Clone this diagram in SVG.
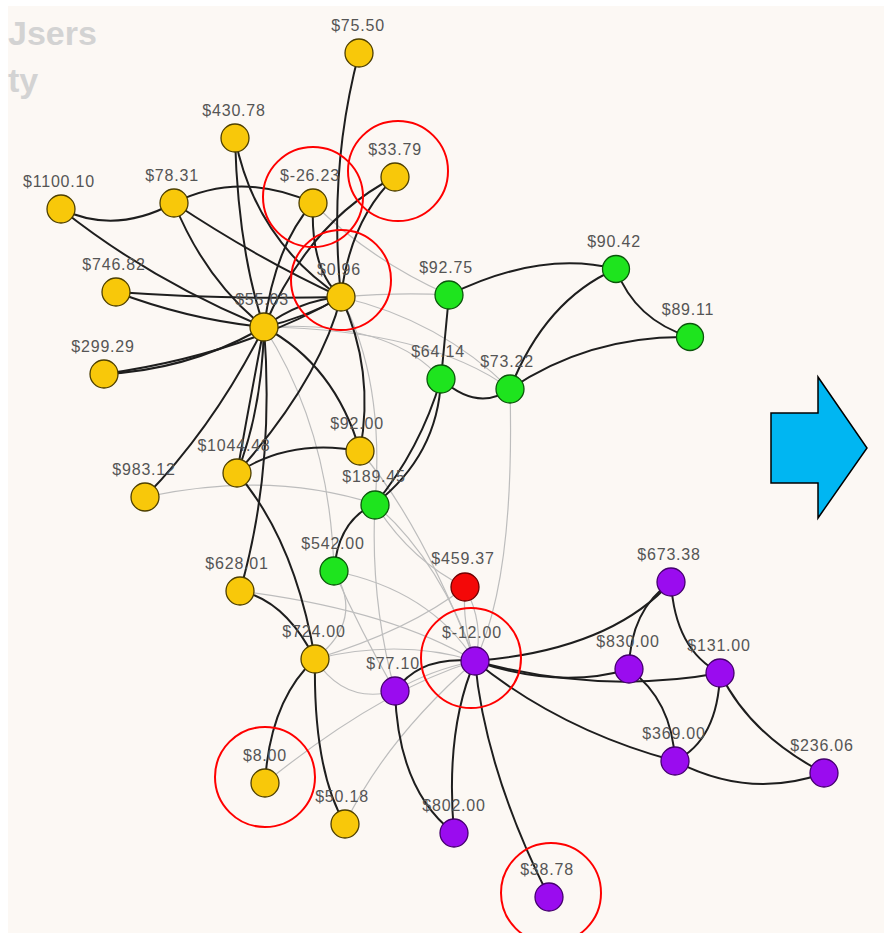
<svg xmlns="http://www.w3.org/2000/svg" width="884" height="933" viewBox="0 0 884 933">
<style>
.bg{fill:#fcf8f4}
.d{fill:none;stroke:#1e1e1e;stroke-width:2}
.g{fill:none;stroke:#bdbdbd;stroke-width:1.2}
.y{fill:#f8c80a;stroke:#4d3f00;stroke-width:1.3}
.gr{fill:#1ee41e;stroke:#0b560b;stroke-width:1.3}
.r{fill:#f40808;stroke:#6e0000;stroke-width:1.3}
.p{fill:#9a0cef;stroke:#45006e;stroke-width:1.3}
.lb{font-family:"Liberation Sans",Arial,sans-serif;font-size:16px;letter-spacing:0.8px;fill:#555;text-anchor:middle}
.hl{fill:none;stroke:#f00;stroke-width:2}
.title{font-family:"Liberation Sans",Arial,sans-serif;font-weight:bold;font-size:34px;fill:#d3d3d3}
</style>
<rect x="0" y="0" width="884" height="933" fill="#ffffff"/>
<rect class="bg" x="8" y="6" width="876" height="927"/>
<text class="title" x="8" y="45">Jsers</text>
<text class="title" x="8" y="92">ty</text>

<g id="connectors">
<!-- gray edges -->
<path class="g" d="M341,297 Q400,292 449,295"/>
<path class="g" d="M313,203 Q370,260 449,295"/>
<path class="g" d="M341,297 Q440,320 510,389"/>
<path class="g" d="M264,327 Q390,320 441,379"/>
<path class="g" d="M264,327 Q430,330 510,389"/>
<path class="g" d="M510,389 Q515,580 475,661"/>
<path class="g" d="M145,497 Q270,470 375,504"/>
<path class="g" d="M264,327 Q330,430 334,571"/>
<path class="g" d="M334,571 Q365,620 315,659"/>
<path class="g" d="M341,297 Q385,380 375,504"/>
<path class="g" d="M360,451 Q420,520 475,661"/>
<path class="g" d="M375,504 Q440,560 475,661"/>
<path class="g" d="M375,504 Q410,560 465,587"/>
<path class="g" d="M375,504 Q370,600 395,691"/>
<path class="g" d="M334,571 Q430,590 475,661"/>
<path class="g" d="M334,571 Q360,630 395,691"/>
<path class="g" d="M240,591 Q390,610 475,661"/>
<path class="g" d="M315,659 Q400,638 475,661"/>
<path class="g" d="M315,659 Q410,630 465,587"/>
<path class="g" d="M315,659 Q345,705 395,691"/>
<path class="g" d="M465,587 Q462,625 475,661"/>
<path class="g" d="M465,587 Q485,625 475,661"/>
<path class="g" d="M265,783 Q380,690 475,661"/>
<path class="g" d="M345,824 Q385,740 475,661"/>
<path class="g" d="M395,691 Q430,670 475,661"/>
<!-- dark edges -->
<path class="d" d="M61,209 Q115,235 174,203"/>
<path class="d" d="M61,209 Q150,280 264,327"/>
<path class="d" d="M174,203 Q240,170 313,203"/>
<path class="d" d="M174,203 Q205,280 264,327"/>
<path class="d" d="M174,203 Q260,260 341,297"/>
<path class="d" d="M235,138 Q238,250 264,327"/>
<path class="d" d="M235,138 Q255,240 341,297"/>
<path class="d" d="M313,203 Q275,245 264,327"/>
<path class="d" d="M313,203 Q310,270 341,297"/>
<path class="d" d="M395,177 Q310,220 264,327"/>
<path class="d" d="M395,177 Q350,220 341,297"/>
<path class="d" d="M359,53 Q328,170 341,297"/>
<path class="d" d="M264,327 Q300,300 341,297"/>
<path class="d" d="M264,327 Q305,318 341,297"/>
<path class="d" d="M116,292 Q190,320 264,327"/>
<path class="d" d="M116,292 Q230,300 341,297"/>
<path class="d" d="M104,374 Q190,370 264,327"/>
<path class="d" d="M104,374 Q240,355 341,297"/>
<path class="d" d="M264,327 Q250,400 237,473"/>
<path class="d" d="M264,327 Q262,410 237,473"/>
<path class="d" d="M264,327 Q275,470 240,591"/>
<path class="d" d="M237,473 Q295,540 315,659"/>
<path class="d" d="M240,591 Q285,600 315,659"/>
<path class="d" d="M315,659 Q270,700 265,783"/>
<path class="d" d="M315,659 Q313,770 345,824"/>
<path class="d" d="M264,327 Q335,365 360,451"/>
<path class="d" d="M341,297 Q375,370 360,451"/>
<path class="d" d="M341,297 Q320,380 237,473"/>
<path class="d" d="M237,473 Q290,438 360,451"/>
<path class="d" d="M264,327 Q215,425 145,497"/>
<path class="d" d="M449,295 Q540,250 616,269"/>
<path class="d" d="M449,295 L441,379"/>
<path class="d" d="M441,379 Q478,412 510,389"/>
<path class="d" d="M510,389 Q545,300 616,269"/>
<path class="d" d="M510,389 Q590,335 690,337"/>
<path class="d" d="M616,269 Q635,320 690,337"/>
<path class="d" d="M441,379 Q420,450 375,504"/>
<path class="d" d="M441,379 Q438,455 375,504"/>
<path class="d" d="M375,504 Q338,520 334,571"/>
<path class="d" d="M475,661 Q420,655 395,691"/>
<path class="d" d="M475,661 Q610,650 671,582"/>
<path class="d" d="M475,661 Q560,690 629,669"/>
<path class="d" d="M475,661 Q600,695 720,673"/>
<path class="d" d="M475,661 Q560,730 675,761"/>
<path class="d" d="M475,661 Q445,730 454,833"/>
<path class="d" d="M475,661 Q485,770 549,897"/>
<path class="d" d="M395,691 Q398,790 454,833"/>
<path class="d" d="M671,582 Q630,610 629,669"/>
<path class="d" d="M671,582 Q675,650 720,673"/>
<path class="d" d="M629,669 Q672,700 675,761"/>
<path class="d" d="M720,673 Q718,740 675,761"/>
<path class="d" d="M720,673 Q750,735 824,773"/>
<path class="d" d="M675,761 Q750,800 824,773"/>
</g>

<g id="n-75-50"><circle class="y" cx="359" cy="53" r="14"/><text class="lb" x="358" y="31">$75.50</text></g>
<g id="n-430-78"><circle class="y" cx="235" cy="138" r="14"/><text class="lb" x="234" y="116">$430.78</text></g>
<g id="n-1100-10"><circle class="y" cx="61" cy="209" r="14"/><text class="lb" x="59" y="187">$1100.10</text></g>
<g id="n-78-31"><circle class="y" cx="174" cy="203" r="14"/><text class="lb" x="172" y="181">$78.31</text></g>
<g id="n-m26-23"><circle class="y" cx="313" cy="203" r="14"/><text class="lb" x="310" y="181">$-26.23</text></g>
<g id="n-33-79"><circle class="y" cx="395" cy="177" r="14"/><text class="lb" x="395" y="155">$33.79</text></g>
<g id="n-0-96"><circle class="y" cx="341" cy="297" r="14"/><text class="lb" x="339" y="275">$0.96</text></g>
<g id="n-746-82"><circle class="y" cx="116" cy="292" r="14"/><text class="lb" x="114" y="270">$746.82</text></g>
<g id="n-55-03"><circle class="y" cx="264" cy="327" r="14"/><text class="lb" x="262" y="305">$55.03</text></g>
<g id="n-299-29"><circle class="y" cx="104" cy="374" r="14"/><text class="lb" x="103" y="352">$299.29</text></g>
<g id="n-92-00"><circle class="y" cx="360" cy="451" r="14"/><text class="lb" x="357" y="429">$92.00</text></g>
<g id="n-1044-48"><circle class="y" cx="237" cy="473" r="14"/><text class="lb" x="234" y="451">$1044.48</text></g>
<g id="n-983-12"><circle class="y" cx="145" cy="497" r="14"/><text class="lb" x="144" y="475">$983.12</text></g>
<g id="n-628-01"><circle class="y" cx="240" cy="591" r="14"/><text class="lb" x="237" y="569">$628.01</text></g>
<g id="n-724-00"><circle class="y" cx="315" cy="659" r="14"/><text class="lb" x="314" y="637">$724.00</text></g>
<g id="n-8-00"><circle class="y" cx="265" cy="783" r="14"/><text class="lb" x="265" y="761">$8.00</text></g>
<g id="n-50-18"><circle class="y" cx="345" cy="824" r="14"/><text class="lb" x="342" y="802">$50.18</text></g>

<g id="n-92-75"><circle class="gr" cx="449" cy="295" r="14"/><text class="lb" x="446" y="273">$92.75</text></g>
<g id="n-90-42"><circle class="gr" cx="616" cy="269" r="13.5"/><text class="lb" x="614" y="247">$90.42</text></g>
<g id="n-89-11"><circle class="gr" cx="690" cy="337" r="13.5"/><text class="lb" x="688" y="315">$89.11</text></g>
<g id="n-64-14"><circle class="gr" cx="441" cy="379" r="14"/><text class="lb" x="438" y="357">$64.14</text></g>
<g id="n-73-22"><circle class="gr" cx="510" cy="389" r="14"/><text class="lb" x="507" y="367">$73.22</text></g>
<g id="n-189-45"><circle class="gr" cx="375" cy="505" r="14"/><text class="lb" x="374" y="482">$189.45</text></g>
<g id="n-542-00"><circle class="gr" cx="334" cy="571" r="14"/><text class="lb" x="333" y="549">$542.00</text></g>

<g id="n-459-37"><circle class="r" cx="465" cy="587" r="14"/><text class="lb" x="463" y="564">$459.37</text></g>

<g id="n-673-38"><circle class="p" cx="671" cy="582" r="14"/><text class="lb" x="669" y="560">$673.38</text></g>
<g id="n-830-00"><circle class="p" cx="629" cy="669" r="14"/><text class="lb" x="628" y="647">$830.00</text></g>
<g id="n-131-00"><circle class="p" cx="720" cy="673" r="14"/><text class="lb" x="719" y="651">$131.00</text></g>
<g id="n-m12-00"><circle class="p" cx="475" cy="661" r="14"/><text class="lb" x="472" y="638">$-12.00</text></g>
<g id="n-77-10"><circle class="p" cx="395" cy="691" r="14"/><text class="lb" x="393" y="669">$77.10</text></g>
<g id="n-369-00"><circle class="p" cx="675" cy="761" r="14"/><text class="lb" x="674" y="739">$369.00</text></g>
<g id="n-236-06"><circle class="p" cx="824" cy="773" r="14"/><text class="lb" x="822" y="751">$236.06</text></g>
<g id="n-802-00"><circle class="p" cx="454" cy="833" r="14"/><text class="lb" x="454" y="811">$802.00</text></g>
<g id="n-38-78"><circle class="p" cx="549" cy="897" r="14"/><text class="lb" x="547" y="875">$38.78</text></g>

<g id="highlights">
<circle class="hl" cx="313" cy="197" r="50"/>
<circle class="hl" cx="398" cy="171" r="50"/>
<circle class="hl" cx="341" cy="280" r="50"/>
<circle class="hl" cx="471" cy="658" r="50"/>
<circle class="hl" cx="265" cy="777" r="50"/>
<circle class="hl" cx="551" cy="893" r="50"/>
</g>

<g id="arrow">
<polygon points="771,413 818,413 818,377 867,448 818,518 818,483 771,483" fill="#00b6f2" stroke="#000" stroke-width="1.5" stroke-linejoin="miter"/>
</g>
</svg>
